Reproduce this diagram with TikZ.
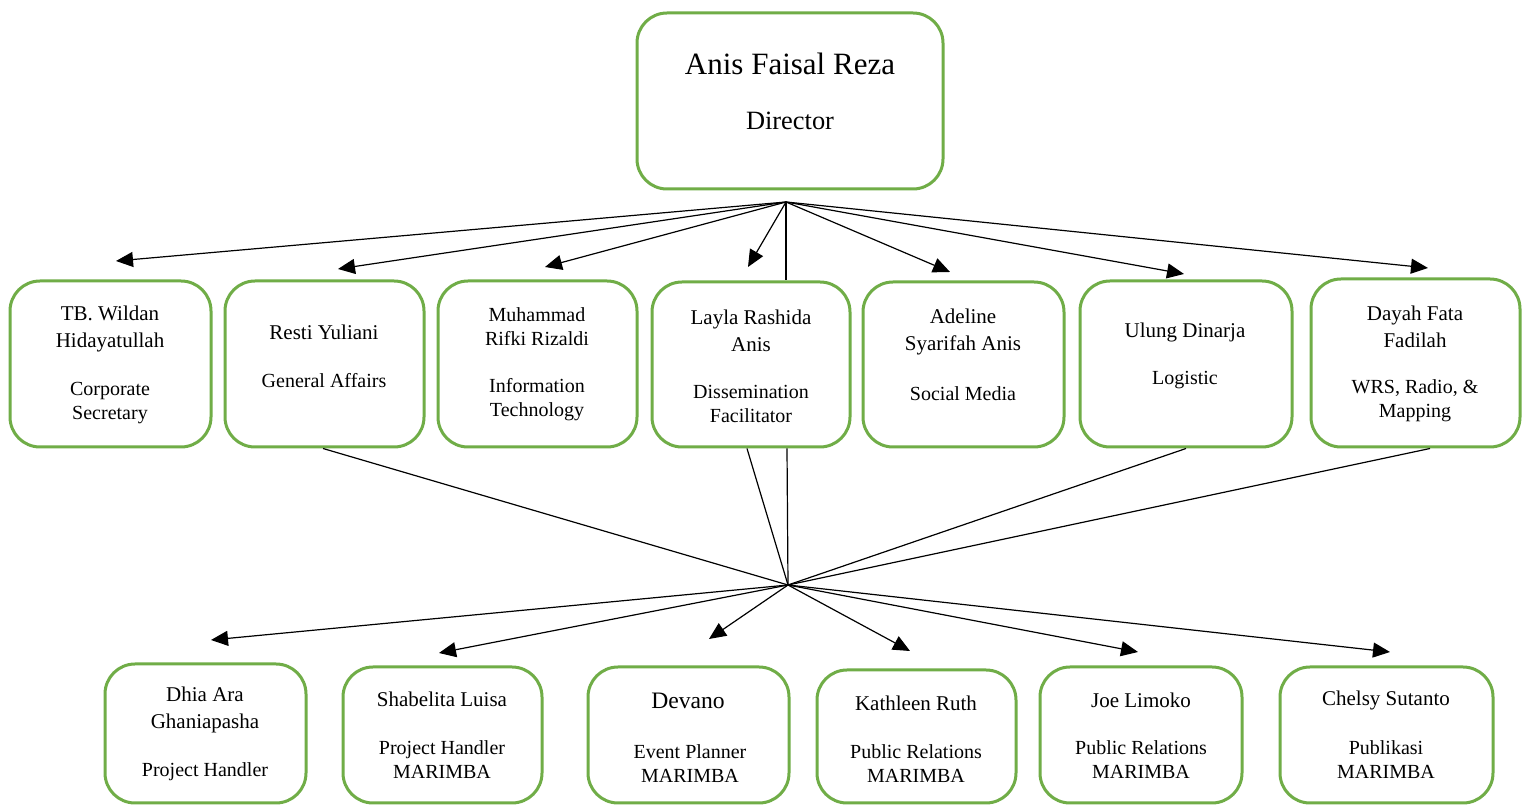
\documentclass[tikz,border=0pt]{standalone}
\usepackage{fontspec}
\setmainfont{Liberation Serif}
\usetikzlibrary{arrows.meta}
\definecolor{boxgreen}{HTML}{70AD47}
\begin{document}
\begin{tikzpicture}[x=0.5pt,y=-0.5pt,
  box/.style={draw=boxgreen, line width=1.5pt, rounded corners=15pt, fill=white, inner sep=0pt},
  nm/.style={inner sep=0pt, align=center, yshift=-0.8pt, font=\fontsize{10.5}{13.5}\selectfont},
  rl/.style={inner sep=0pt, align=center, yshift=-1.6pt, font=\fontsize{10}{12}\selectfont},
  conn/.style={line width=0.6pt, black},
  arr/.style={conn, -{Triangle[length=8.5pt,width=7.5pt]}}]
\useasboundingbox[fill=white] (0,0) rectangle (1528,806);

% boxes
\node[box, minimum width=153pt, minimum height=88pt] (top) at (790,101) {};
\node[box, minimum width=100.5pt, minimum height=83pt] (m1) at (110.5,364) {};
\node[box, minimum width=99.5pt, minimum height=83pt] (m2) at (324.5,364) {};
\node[box, minimum width=99.5pt, minimum height=83pt] (m3) at (537.5,364) {};
\node[box, minimum width=99pt, minimum height=82.5pt] (m4) at (751,364.5) {};
\node[box, minimum width=100.5pt, minimum height=82.5pt] (m5) at (963.5,364.5) {};
\node[box, minimum width=106pt, minimum height=83pt] (m6) at (1186,364) {};
\node[box, minimum width=104.5pt, minimum height=84pt] (m7) at (1415.5,363) {};
\node[box, minimum width=100.5pt, minimum height=69.5pt] (d1) at (205.5,733.5) {};
\node[box, minimum width=99.5pt, minimum height=68pt] (d2) at (442.5,735) {};
\node[box, minimum width=100.5pt, minimum height=68pt] (d3) at (688.5,735) {};
\node[box, minimum width=99.5pt, minimum height=66.5pt] (d4) at (916.5,736.5) {};
\node[box, minimum width=101pt, minimum height=68pt] (d5) at (1141,735) {};
\node[box, minimum width=106.5pt, minimum height=68pt] (d6) at (1386.5,735) {};

% texts
\node[inner sep=0pt, font=\fontsize{15.5}{18}\selectfont] (topn) at (790,64) {Anis Faisal Reza};
\node[inner sep=0pt, font=\fontsize{13.2}{16}\selectfont] (topr) at (790,121) {Director};

\node[nm] (m1n) at (110,327.5) {TB. Wildan\\Hidayatullah};
\node[rl] (m1r) at (110,399.5) {Corporate\\Secretary};
\node[nm] (m2n) at (324,331) {Resti Yuliani};
\node[rl] (m2r) at (324,377) {General Affairs};
\node[nm, font=\fontsize{10}{12}\selectfont] (m3n) at (537,325) {Muhammad\\Rifki Rizaldi};
\node[rl] (m3r) at (537,396) {Information\\Technology};
\node[nm] (m4n) at (751,329) {Layla Rashida\\Anis};
\node[rl] (m4r) at (751,400.5) {Dissemination\\Facilitator};
\node[nm] (m5n) at (963,330.5) {Adeline\\Syarifah Anis};
\node[rl] (m5r) at (963,390) {Social Media};
\node[nm] (m6n) at (1185,331) {Ulung Dinarja};
\node[rl] (m6r) at (1185,377) {Logistic};
\node[nm] (m7n) at (1415,325.5) {Dayah Fata\\Fadilah};
\node[rl] (m7r) at (1415,397.5) {WRS, Radio, \&\\Mapping};

\node[nm] (d1n) at (205,708.5) {Dhia Ara\\Ghaniapasha};
\node[rl] (d1r) at (205,768) {Project Handler};
\node[nm] (d2n) at (442,698) {Shabelita Luisa};
\node[rl] (d2r) at (442,756.5) {Project Handler\\MARIMBA};
\node[inner sep=0pt, yshift=-0.8pt, font=\fontsize{11.8}{14}\selectfont] (d3n) at (688,699) {Devano};
\node[rl] (d3r) at (690,760) {Event Planner\\MARIMBA};
\node[nm] (d4n) at (916,702) {Kathleen Ruth};
\node[rl] (d4r) at (916,760.5) {Public Relations\\MARIMBA};
\node[nm] (d5n) at (1141,699) {Joe Limoko};
\node[rl] (d5r) at (1141,756.5) {Public Relations\\MARIMBA};
\node[nm] (d6n) at (1386,699) {Chelsy Sutanto};
\node[rl] (d6r) at (1386,756.5) {Publikasi\\MARIMBA};

% hubs and arrow ends
\coordinate (h1) at (786,202);
\coordinate (h2) at (788,585);
\coordinate (a1) at (116,261);
\coordinate (a2) at (338,269);
\coordinate (a3) at (545,267);
\coordinate (a4) at (748,267);
\coordinate (a5) at (950,272);
\coordinate (a6) at (1184,274);
\coordinate (a7) at (1428,268);
\coordinate (b1) at (211,640);
\coordinate (b2) at (439,653);
\coordinate (b3) at (709,639);
\coordinate (b4) at (910,651);
\coordinate (b5) at (1138,652);
\coordinate (b6) at (1390,652);

\foreach \t in {a1,a2,a3,a4,a5,a6,a7} \draw[arr] (h1) -- (\t);
\foreach \t in {b1,b2,b3,b4,b5,b6} \draw[arr] (h2) -- (\t);

\draw[conn] (h1) -- (m4.north -| h1);
\draw[conn] ([xshift=18pt]m4.south) -- (h2);
\draw[conn] ([xshift=-2pt]m4.south) -- (h2);
\draw[conn] ([xshift=-0.75pt]m2.south) -- (h2);
\draw[conn] (m6.south) -- (h2);
\draw[conn] ([xshift=7.25pt]m7.south) -- (h2);
\end{tikzpicture}
\end{document}
